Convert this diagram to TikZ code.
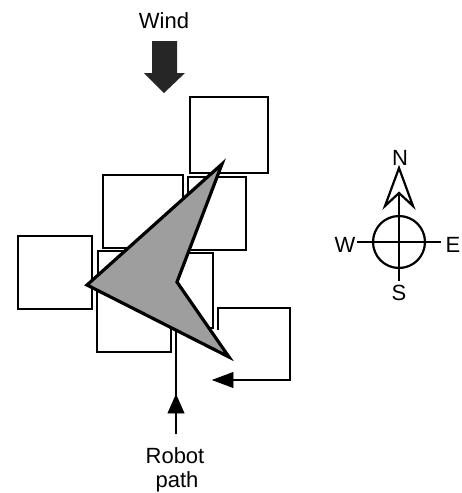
\documentclass[tikz,border=0pt]{standalone}
\usepackage{fontspec}
\setmainfont{Liberation Sans}
\begin{document}
\begin{tikzpicture}[x=1pt,y=-1pt,
  box/.style={draw=black,line width=2.3pt,fill=white},
  pathline/.style={draw=black,line width=2pt},
  lbl/.style={font=\fontsize{22}{26}\selectfont,inner sep=0pt,anchor=base},
  robot/.style={draw=black,line width=3.2pt,line join=miter,fill=black!38},
  head/.style={fill=black,draw=black,line width=0.8pt,line join=miter}]
\useasboundingbox (0,0) rectangle (461,493);
% labels
\node[lbl] (wind) at (164,28) {Wind};
\node[lbl] (robot1) at (175,463) {Robot};
\node[lbl] (robot2) at (177,487) {path};
% wind arrow
\fill[black!85] (152,41) -- (177,41) -- (177,73) -- (185,73) -- (164,93) -- (144,73) -- (152,73) -- cycle;
% footprints
\draw[box] (103,175) rectangle (183,248);
\draw[box] (188,177) rectangle (246,250);
\draw[box] (190,97) rectangle (268,173);
\draw[box] (18,236) rectangle (92,309);
\draw[box] (98,251) rectangle (173,326);
\draw[box] (138,253) rectangle (213,328);
\draw[box] (97,278) rectangle (171,352);
% robot path
\coordinate (p0) at (176,434);
\coordinate (p1) at (176,300);
\draw[pathline] (p0) -- (p1);
\coordinate (a1) at (176,395);
\fill[head] (a1) -- (184,413) -- (168,413) -- cycle;
\coordinate (q0) at (218,330);
\coordinate (q1) at (218,308);
\coordinate (q2) at (290,308);
\coordinate (q3) at (290,380);
\coordinate (q4) at (228,380);
\draw[pathline,line join=miter] (q0) -- (q1) -- (q2) -- (q3) -- (q4);
\coordinate (a2) at (213,380);
\fill[head] (a2) -- (233,372.5) -- (233,387.5) -- cycle;
% robot
\draw[robot] (222,164) -- (177,282) -- (229,357) -- (87,285) -- cycle;
% compass
\coordinate (cc) at (399,242);
\draw[line width=2pt] (399,195) -- (399,281);
\draw[line width=2pt] (357,242) -- (441,242);
\draw[line width=2.2pt] (cc) circle (26);
\draw[line width=2.2pt,line join=miter,fill=white] (399,168) -- (413,206) -- (399,193) -- (385,206) -- cycle;
\node[lbl] (N) at (400,165) {N};
\node[lbl] (S) at (399,300) {S};
\node[lbl] (W) at (345,252) {W};
\node[lbl] (E) at (453,252) {E};
\end{tikzpicture}
\end{document}
